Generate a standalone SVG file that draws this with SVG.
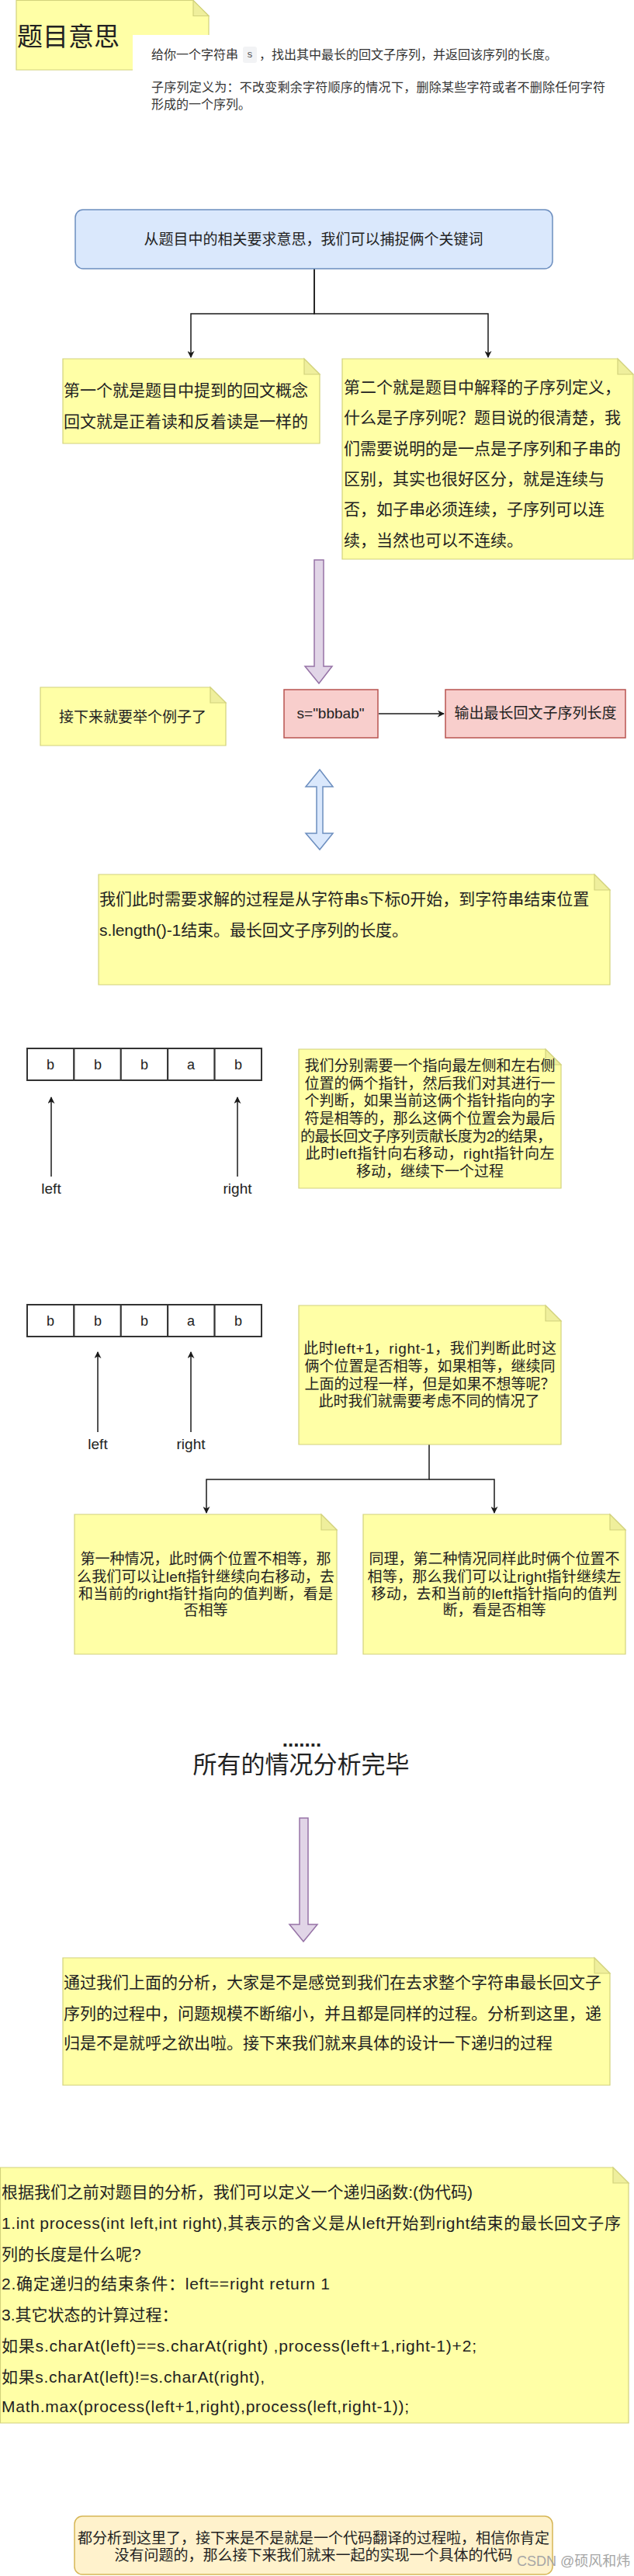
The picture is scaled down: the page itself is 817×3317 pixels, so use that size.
<svg xmlns="http://www.w3.org/2000/svg" width="817" height="3317" viewBox="0 0 817 3317">
<style>
text{font-family:"Liberation Sans","Noto Sans CJK SC",sans-serif;fill:#222;dominant-baseline:central}
.note{fill:#ffffa6;stroke:#d2d27c;stroke-width:1.2}
.fold{fill:#efef9c;stroke:#d2d27c;stroke-width:1.2}
.f21{font-size:21px}
.f19{font-size:19px}
.c{text-anchor:middle}
.edge{fill:none;stroke:#1a1a1a;stroke-width:1.5}
.cell{fill:#fff;stroke:#333;stroke-width:2}
.red{fill:#f8cecc;stroke:#b85450;stroke-width:1.5}
.purple{fill:#e1d5e7;stroke:#9673a6;stroke-width:1.5}
.blue{fill:#dae8fc;stroke:#6c8ebf;stroke-width:1.5}
</style>
<defs>
<marker id="arr" viewBox="0 0 10 10" refX="9" refY="5" markerWidth="9" markerHeight="9" markerUnits="userSpaceOnUse" orient="auto">
<path d="M0,0 L10,5 L0,10 L3,5 Z" fill="#1a1a1a"/>
</marker>
</defs>
<rect width="817" height="3317" fill="#fff"/>

<g id="title">
<path class="note" d="M21,0.5 H249 L269,20.5 V90 H21 Z"/>
<path class="fold" d="M249,0.5 V20.5 H269 Z"/>
<text x="22" y="47" style="font-size:33px">题目意思</text>
</g>
<g id="desc">
<rect x="171" y="45" width="646" height="110" fill="#fff"/>
<text x="195" y="70" style="font-size:16px;fill:#333">给你一个字符串</text>
<rect x="313" y="60" width="18" height="21" rx="3" fill="#f2f3f5"/>
<text x="322" y="70" class="c" style="font-size:13px;fill:#555;font-family:'Liberation Mono',monospace">s</text>
<text x="334" y="70" style="font-size:16px;fill:#333">，找出其中最长的回文子序列，并返回该序列的长度。</text>
<text x="195" y="112" style="font-size:16px;fill:#333" textLength="585" lengthAdjust="spacing">子序列定义为：不改变剩余字符顺序的情况下，删除某些字符或者不删除任何字符</text>
<text x="195" y="134" style="font-size:16px;fill:#333">形成的一个序列。</text>
</g>

<g id="connectors">
<path class="edge" d="M405,346 V404 H246 V460" marker-end="url(#arr)"/>
<path class="edge" d="M405,346 V404 H629 V460" marker-end="url(#arr)"/>
<path class="edge" d="M488,919 H572" marker-end="url(#arr)"/>
<path class="edge" d="M66,1515 V1413" marker-end="url(#arr)"/>
<path class="edge" d="M306,1515 V1413" marker-end="url(#arr)"/>
<path class="edge" d="M126,1844 V1741" marker-end="url(#arr)"/>
<path class="edge" d="M246,1844 V1741" marker-end="url(#arr)"/>
<path class="edge" d="M553,1860 V1905 H266 V1948" marker-end="url(#arr)"/>
<path class="edge" d="M553,1905 H637 V1948" marker-end="url(#arr)"/>
<path class="purple" d="M405,721 H417 V858 H428 L411,880 L393,858 H405 Z"/>
<path class="blue" d="M412,991 L429,1013 H416 V1073 H429 L412,1094 L394,1073 H408 V1013 H394 Z"/>
<path class="purple" d="M386,2341 H397 V2478 H409 L391,2500 L373,2478 H386 Z"/>
</g>

<g id="keyBox">
<rect x="97" y="270" width="615" height="76" rx="10" class="blue"/>
<text x="404" y="308" class="c f19">从题目中的相关要求意思，我们可以捕捉俩个关键词</text>
</g>

<g id="noteLeft">
<path class="note" d="M81,462 H392 L412,482 V571 H81 Z"/>
<path class="fold" d="M392,462 V482 H412 Z"/>
<text x="82" y="502" class="f21">第一个就是题目中提到的回文概念</text>
<text x="82" y="542" class="f21">回文就是正着读和反着读是一样的</text>
</g>

<g id="noteRight">
<path class="note" d="M441,462 H796 L816,482 V720 H441 Z"/>
<path class="fold" d="M796,462 V482 H816 Z"/>
<text x="443" y="498" class="f21">第二个就是题目中解释的子序列定义，</text>
<text x="443" y="537" class="f21">什么是子序列呢？题目说的很清楚，我</text>
<text x="443" y="577" class="f21">们需要说明的是一点是子序列和子串的</text>
<text x="443" y="616" class="f21">区别，其实也很好区分，就是连续与</text>
<text x="443" y="655" class="f21">否，如子串必须连续，子序列可以连</text>
<text x="443" y="695" class="f21">续，当然也可以不连续。</text>
</g>

<g id="noteExample">
<path class="note" d="M52,885 H271 L291,905 V960 H52 Z"/>
<path class="fold" d="M271,885 V905 H291 Z"/>
<text x="171" y="923" class="c f19">接下来就要举个例子了</text>
</g>

<g id="input">
<rect x="366" y="888" width="121" height="62" class="red"/>
<text x="426" y="918" class="c f19">s="bbbab"</text>
</g>
<g id="output">
<rect x="574" y="888" width="232" height="62" class="red"/>
<text x="690" y="918" class="c f19">输出最长回文子序列长度</text>
</g>

<g id="noteSolve">
<path class="note" d="M127,1126 H766 L786,1146 V1268 H127 Z"/>
<path class="fold" d="M766,1126 V1146 H786 Z"/>
<text x="128" y="1157" class="f21">我们此时需要求解的过程是从字符串s下标0开始，到字符串结束位置</text>
<text x="128" y="1197" class="f21" textLength="398" lengthAdjust="spacing">s.length()-1结束。最长回文子序列的长度。</text>
</g>

<g id="array1">
<rect x="35" y="1350" width="60.4" height="41" class="cell"/>
<rect x="95.4" y="1350" width="60.4" height="41" class="cell"/>
<rect x="155.8" y="1350" width="60.4" height="41" class="cell"/>
<rect x="216.2" y="1350" width="60.4" height="41" class="cell"/>
<rect x="276.6" y="1350" width="60.4" height="41" class="cell"/>
<text x="65" y="1371" class="c" style="font-size:18px">b</text>
<text x="126" y="1371" class="c" style="font-size:18px">b</text>
<text x="186" y="1371" class="c" style="font-size:18px">b</text>
<text x="246" y="1371" class="c" style="font-size:18px">a</text>
<text x="307" y="1371" class="c" style="font-size:18px">b</text>
<text x="66" y="1530" class="c f19">left</text>
<text x="306" y="1530" class="c f19">right</text>
</g>

<g id="notePointer1">
<path class="note" d="M385,1351 H703 L723,1371 V1530 H385 Z"/>
<path class="fold" d="M703,1351 V1371 H723 Z"/>
<text x="554" y="1372" class="c f19">我们分别需要一个指向最左侧和左右侧</text>
<text x="554" y="1395" class="c f19">位置的俩个指针，然后我们对其进行一</text>
<text x="554" y="1417" class="c f19">个判断，如果当前这俩个指针指向的字</text>
<text x="554" y="1440" class="c f19">符是相等的，那么这俩个位置会为最后</text>
<text x="549" y="1463" class="c f19" textLength="324" lengthAdjust="spacing">的最长回文子序列贡献长度为2的结果，</text>
<text x="554" y="1485" class="c f19" textLength="321" lengthAdjust="spacing">此时left指针向右移动，right指针向左</text>
<text x="554" y="1508" class="c f19">移动，继续下一个过程</text>
</g>

<g id="array2">
<rect x="35" y="1680" width="60.4" height="41" class="cell"/>
<rect x="95.4" y="1680" width="60.4" height="41" class="cell"/>
<rect x="155.8" y="1680" width="60.4" height="41" class="cell"/>
<rect x="216.2" y="1680" width="60.4" height="41" class="cell"/>
<rect x="276.6" y="1680" width="60.4" height="41" class="cell"/>
<text x="65" y="1701" class="c" style="font-size:18px">b</text>
<text x="126" y="1701" class="c" style="font-size:18px">b</text>
<text x="186" y="1701" class="c" style="font-size:18px">b</text>
<text x="246" y="1701" class="c" style="font-size:18px">a</text>
<text x="307" y="1701" class="c" style="font-size:18px">b</text>
<text x="126" y="1859" class="c f19">left</text>
<text x="246" y="1859" class="c f19">right</text>
</g>

<g id="notePointer2">
<path class="note" d="M385,1681 H703 L723,1701 V1860 H385 Z"/>
<path class="fold" d="M703,1681 V1701 H723 Z"/>
<text x="554" y="1736" class="c f19" textLength="326" lengthAdjust="spacing">此时left+1，right-1，我们判断此时这</text>
<text x="554" y="1759" class="c f19">俩个位置是否相等，如果相等，继续同</text>
<text x="554" y="1782" class="c f19">上面的过程一样，但是如果不想等呢？</text>
<text x="553" y="1804" class="c f19">此时我们就需要考虑不同的情况了</text>
</g>

<g id="case1">
<path class="note" d="M96,1950 H414 L434,1970 V2130 H96 Z"/>
<path class="fold" d="M414,1950 V1970 H434 Z"/>
<text x="265" y="2007" class="c f19">第一种情况，此时俩个位置不相等，那</text>
<text x="265" y="2030" class="c f19" textLength="332" lengthAdjust="spacing">么我们可以让left指针继续向右移动，去</text>
<text x="265" y="2052" class="c f19" textLength="328" lengthAdjust="spacing">和当前的right指针指向的值判断，看是</text>
<text x="265" y="2073" class="c f19">否相等</text>
</g>

<g id="case2">
<path class="note" d="M468,1950 H786 L806,1970 V2130 H468 Z"/>
<path class="fold" d="M786,1950 V1970 H806 Z"/>
<text x="637" y="2007" class="c f19">同理，第二种情况同样此时俩个位置不</text>
<text x="637" y="2030" class="c f19" textLength="327" lengthAdjust="spacing">相等，那么我们可以让right指针继续左</text>
<text x="637" y="2052" class="c f19" textLength="317" lengthAdjust="spacing">移动，去和当前的left指针指向的值判</text>
<text x="637" y="2073" class="c f19">断，看是否相等</text>
</g>

<g id="allDone">
<text x="389" y="2240" class="c" style="font-size:26px;font-weight:bold">.......</text>
<text x="388" y="2272" class="c" style="font-size:31px">所有的情况分析完毕</text>
</g>

<g id="noteSummary">
<path class="note" d="M81,2521 H766 L786,2541 V2685 H81 Z"/>
<path class="fold" d="M766,2521 V2541 H786 Z"/>
<text x="82" y="2552" class="f21">通过我们上面的分析，大家是不是感觉到我们在去求整个字符串最长回文子</text>
<text x="82" y="2592" class="f21">序列的过程中，问题规模不断缩小，并且都是同样的过程。分析到这里，递</text>
<text x="82" y="2630" class="f21">归是不是就呼之欲出啦。接下来我们就来具体的设计一下递归的过程</text>
</g>

<g id="noteCode">
<path class="note" d="M0.5,2791 H790 L810,2811 V3120 H0.5 Z"/>
<path class="fold" d="M790,2791 V2811 H810 Z"/>
<text x="2" y="2822" class="f21" textLength="607" lengthAdjust="spacing">根据我们之前对题目的分析，我们可以定义一个递归函数:(伪代码)</text>
<text x="2" y="2862" class="f21" textLength="798" lengthAdjust="spacing">1.int process(int left,int right),其表示的含义是从left开始到right结束的最长回文子序</text>
<text x="2" y="2902" class="f21">列的长度是什么呢?</text>
<text x="2" y="2940" class="f21" textLength="423" lengthAdjust="spacing">2.确定递归的结束条件：left==right return 1</text>
<text x="2" y="2980" class="f21">3.其它状态的计算过程：</text>
<text x="2" y="3020" class="f21" textLength="612" lengthAdjust="spacing">如果s.charAt(left)==s.charAt(right) ,process(left+1,right-1)+2;</text>
<text x="2" y="3060" class="f21" textLength="339" lengthAdjust="spacing">如果s.charAt(left)!=s.charAt(right),</text>
<text x="2" y="3098" class="f21" textLength="525" lengthAdjust="spacing">Math.max(process(left+1,right),process(left,right-1));</text>
</g>

<g id="final">
<rect x="96" y="3240" width="616" height="75" rx="10" fill="#fff2cc" stroke="#d6b656" stroke-width="1.5"/>
<text x="404" y="3268" class="c f19">都分析到这里了，接下来是不是就是一个代码翻译的过程啦，相信你肯定</text>
<text x="404" y="3290" class="c f19">没有问题的，那么接下来我们就来一起的实现一个具体的代码</text>
</g>

<text x="666" y="3298" style="font-size:18px;fill:#a6a6a6">CSDN @硕风和炜</text>
</svg>
